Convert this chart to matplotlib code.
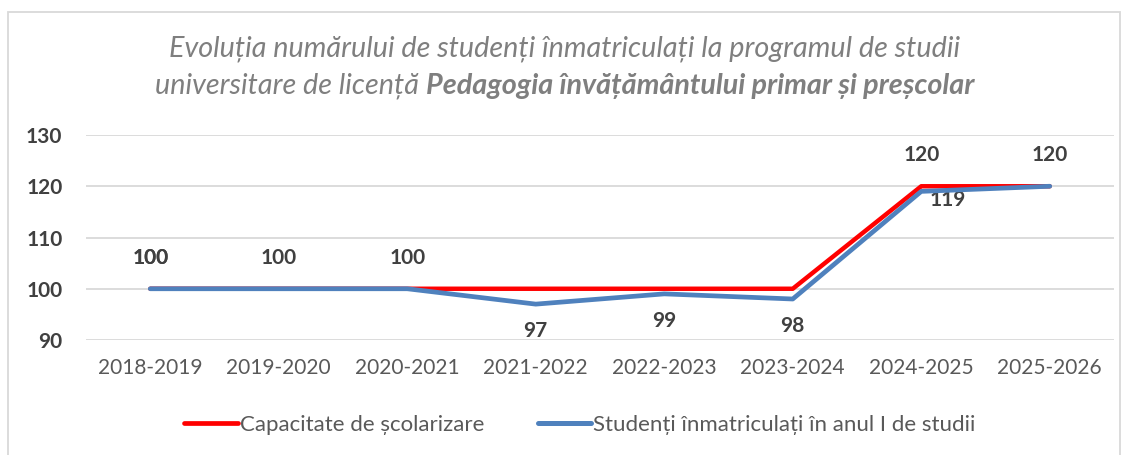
import matplotlib
matplotlib.use("Agg")
import matplotlib.pyplot as plt
from matplotlib.patches import Rectangle
from matplotlib.lines import Line2D

plt.rcParams['font.family'] = ['Lato', 'DejaVu Sans']

years = ["2018-2019", "2019-2020", "2020-2021", "2021-2022", "2022-2023",
         "2023-2024", "2024-2025", "2025-2026"]
capacitate = [100, 100, 100, 100, 100, 100, 120, 120]
studenti = [100, 100, 100, 97, 99, 98, 119, 120]
# which labels are shown, and where
capacitate_label_pos = ["above", "above", "above", None, None, None, "above", "above"]
studenti_label_pos = ["above", None, None, "below", "below", "below", "belowright", None]

title1 = "Evoluția numărului de studenți înmatriculați la programul de studii"
title2a = "universitare de licență "
title2b = "Pedagogia învățământului primar și preșcolar"
legend_labels = ["Capacitate de școlarizare", "Studenți înmatriculați în anul I de studii"]

RED = "#FF0000"
BLUE = "#4F81BD"
TXT = "#404040"
GRAY = "#595959"
TGRAY = "#7F7F7F"

W, H = 1129, 455
fig = plt.figure(figsize=(W / 100, H / 100), dpi=100)
fig.patch.set_facecolor("white")

# chart frame
fig.patches.append(Rectangle((8 / W, -0.01), (1120 - 8) / W, 1 - 12 / H + 0.01,
                             transform=fig.transFigure, fill=False,
                             edgecolor="#D9D9D9", linewidth=1.3))

ax = fig.add_axes([86 / W, 1 - 340 / H, (1114 - 86) / W, (340 - 135) / H])
x = list(range(len(years)))
ax.plot(x, capacitate, color=RED, linewidth=3.2, solid_capstyle="round",
        solid_joinstyle="round", zorder=3)
ax.plot(x, studenti, color=BLUE, linewidth=3.4, solid_capstyle="round",
        solid_joinstyle="round", zorder=4)

ax.set_xlim(-0.5, len(years) - 0.5)
ax.set_ylim(90, 130)
ax.set_yticks([90, 100, 110, 120, 130])
ax.set_xticks(x)
ax.set_xticklabels(years, color=GRAY, fontsize=15)
for lab in ax.get_yticklabels():
    lab.set_fontweight("bold")
    lab.set_color(TXT)
    lab.set_fontsize(15)
ax.tick_params(axis="both", length=0)
ax.tick_params(axis="y", pad=17)
ax.tick_params(axis="x", pad=13)
ax.grid(axis="y", color="#D9D9D9", linewidth=1.3)
ax.set_axisbelow(True)
for s in ax.spines.values():
    s.set_visible(False)


def put_label(i, v, pos):
    if pos is None:
        return
    if pos == "above":
        off = (0, 22.5)
    elif pos == "below":
        off = (0, -19.5)
    else:
        off = (19, -6)
    ax.annotate(str(v), (i, v), xytext=off, textcoords="offset points",
                ha="center", va="center", fontsize=15, fontweight="bold", color=TXT)


for i, (v, pos) in enumerate(zip(capacitate, capacitate_label_pos)):
    put_label(i, v, pos)
for i, (v, pos) in enumerate(zip(studenti, studenti_label_pos)):
    put_label(i, v, pos)

# title
TFS = 20.7
fig.text(0.5, 1 - 49 / H, title1, ha="center", va="center", fontsize=TFS,
         style="italic", color=TGRAY)
r = fig.canvas.get_renderer()
ta = fig.text(0, 1 - 86 / H, title2a, ha="left", va="center", fontsize=TFS,
              style="italic", color=TGRAY)
tb = fig.text(0, 1 - 86 / H, title2b, ha="left", va="center", fontsize=TFS,
              style="italic", fontweight="bold", color=TGRAY)
wa = ta.get_window_extent(r).width
wb = tb.get_window_extent(r).width
start = (W - (wa + wb)) / 2
ta.set_x(start / W)
tb.set_x((start + wa) / W)

# legend
handles = [Line2D([], [], color=RED, linewidth=3.4, solid_capstyle="round"),
           Line2D([], [], color=BLUE, linewidth=3.6, solid_capstyle="round")]
leg = fig.legend(handles, legend_labels, loc="center", bbox_to_anchor=(580 / W, 1 - 425 / H),
                 ncol=2, frameon=False, fontsize=16, handlelength=2.4,
                 handletextpad=0.1, columnspacing=2.4)
for t in leg.get_texts():
    t.set_color(GRAY)

fig.savefig("out.png", dpi=100, facecolor="white")
